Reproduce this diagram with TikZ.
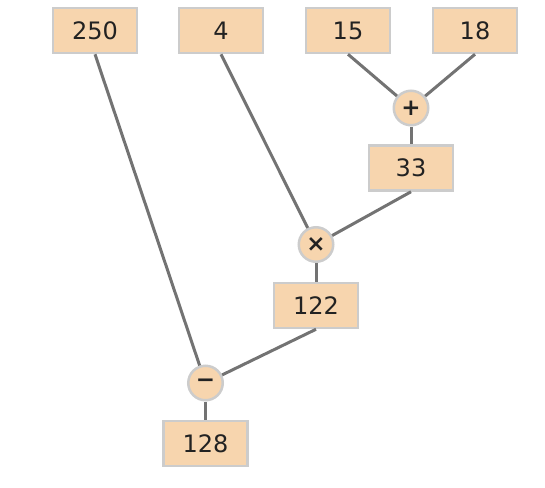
\documentclass[tikz,border=0pt]{standalone}
\usepackage{fontspec}
\setmainfont{DejaVu Sans}
\usepackage{xcolor}
\usepackage{tikz}
\definecolor{peach}{RGB}{247,213,174}
\definecolor{rim}{RGB}{204,204,204}
\definecolor{wire}{RGB}{115,115,115}
\definecolor{ink}{RGB}{34,34,34}

\begin{document}
\begin{tikzpicture}[x=1pt,y=-1pt,
                every node/.append style = {font=\fontsize{24}{28}\selectfont, text=ink},
                numbox/.style = {draw=rim, fill=peach, line width=2.5pt, minimum width=84pt, minimum height=45pt, inner sep=0pt},
                opcirc/.style = {circle, draw=rim, fill=peach, line width=2.5pt, minimum size=34.5pt, inner sep=0pt, font=\fontsize{23}{26}\selectfont\bfseries},
                wire/.style = {draw=wire, line width=3pt}]
            \useasboundingbox (0,0) rectangle (545,487);
            \node[numbox] (n250) at (95,30.5) {250};
            \node[numbox] (n4) at (221,30.5) {4};
            \node[numbox] (n15) at (348,30.5) {15};
            \node[numbox] (n18) at (475,30.5) {18};
            \node[opcirc] (plus) at (411,108) {+};
            \node[numbox] (n33) at (411,168) {33};
            \node[opcirc] (times) at (316,244.5) {×};
            \node[numbox] (n122) at (316,305.5) {122};
            \node[opcirc] (minus) at (205.5,383) {−};
            \node[numbox] (n128) at (205.5,443.5) {128};
            \draw[wire] (n15.south) -- (plus);
            \draw[wire] (n18.south) -- (plus);
            \draw[wire] (plus) -- (n33);
            \draw[wire] (n4.south) -- (times);
            \draw[wire] (n33.south) -- (times);
            \draw[wire] (times) -- (n122);
            \draw[wire] (n250.south) -- (minus);
            \draw[wire] (n122.south) -- (minus);
            \draw[wire] (minus) -- (n128);
            \end{tikzpicture}
\end{document}
